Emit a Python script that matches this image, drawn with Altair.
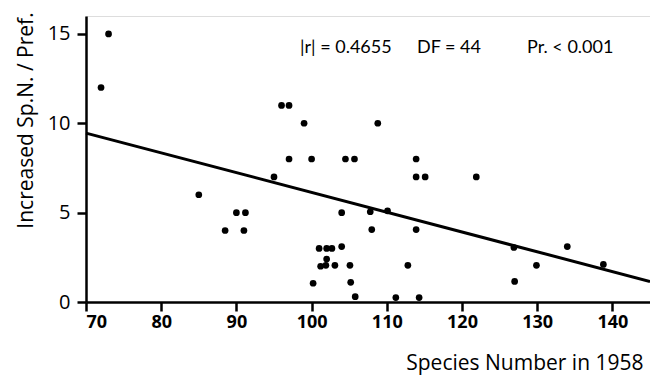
import altair as alt
import pandas as pd

# Scatter data
species_1958 = [73, 72, 96, 97, 99, 97, 100, 104.5, 105.7, 95, 85, 90, 91.2, 88.5, 91,
                104, 101, 102, 102.7, 104, 102, 101.2, 101.9, 103.1, 105.1, 100.2, 105.2,
                105.8, 108.8, 113.9, 113.9, 115.1, 121.9, 107.8, 110.1, 108, 113.9, 111.2,
                114.3, 112.8, 126.9, 127, 129.9, 134, 138.8]
increase = [15, 12, 11, 11, 10, 8, 8, 8, 8, 7, 6, 5, 5, 4, 4,
            5, 3, 3, 3, 3.1, 2.4, 2, 2.05, 2.05, 2.05, 1.05, 1.1,
            0.3, 10, 8, 7, 7, 7, 5.05, 5.1, 4.05, 4.05, 0.25,
            0.25, 2.05, 3.05, 1.15, 2.05, 3.1, 2.1]

# Regression line end points
line_x = [70, 145]
line_y = [9.45, 1.15]

annotations = ["|r| = 0.4655", "DF = 44", "Pr. < 0.001"]

FONT = "Open Sans"
ANN_FONT = "Lato"

pts = pd.DataFrame({"x": species_1958, "y": increase})
ln = pd.DataFrame({"x": line_x, "y": line_y})

xscale = alt.Scale(domain=[70, 145], nice=False, zero=False)
yscale = alt.Scale(domain=[0, 16], nice=False)

xaxis = alt.Axis(values=[70, 80, 90, 100, 110, 120, 130, 140], title="Species Number in 1958",
                 grid=False, domainColor="black", domainWidth=2.5, tickColor="black",
                 tickWidth=2.5, tickSize=9, labelFont=FONT, labelFontSize=18,
                 labelFontWeight="bold", labelColor="black", labelPadding=2,
                 titleFont=FONT, titleFontSize=21, titleFontWeight="normal",
                 titleColor="black", titleAlign="right", titleAnchor="end",
                 titleX=557, titleY=61, titleBaseline="middle")
yaxis = alt.Axis(values=[0, 5, 10, 15], title="Increased Sp.N. / Pref.",
                 grid=False, domainColor="black", domainWidth=2.5, tickColor="black",
                 tickWidth=2.5, tickSize=9, labelFont=FONT, labelFontSize=20,
                 labelColor="black", labelPadding=7,
                 titleFont=FONT, titleFontSize=21, titleFontWeight="normal",
                 titleColor="black", titleAngle=-90, titleX=-60, titleY=104,
                 titleAlign="center", titleBaseline="middle")

points = alt.Chart(pts).mark_circle(color="black", size=45, opacity=1).encode(
    x=alt.X("x:Q", scale=xscale, axis=xaxis),
    y=alt.Y("y:Q", scale=yscale, axis=yaxis),
)

line = alt.Chart(ln).mark_line(color="black", strokeWidth=3).encode(
    x=alt.X("x:Q", scale=xscale),
    y=alt.Y("y:Q", scale=yscale),
)

ann = pd.DataFrame({"t": annotations, "px": [214, 331, 441]})
text = alt.Chart(ann).mark_text(font=ANN_FONT, fontSize=18, color="black", align="left",
                                baseline="middle").encode(
    x=alt.X("px:Q", scale=None),
    y=alt.value(32),
    text="t:N",
)

chart = alt.layer(line, points, text).properties(
    width=564, height=286,
    padding={"left": 86, "top": 16, "right": 0, "bottom": 75},
    autosize=alt.AutoSizeParams(type="none"),
).configure_view(stroke=None).configure(background="white")

chart.save("out.html", embed_options={"renderer": "svg", "actions": False})
